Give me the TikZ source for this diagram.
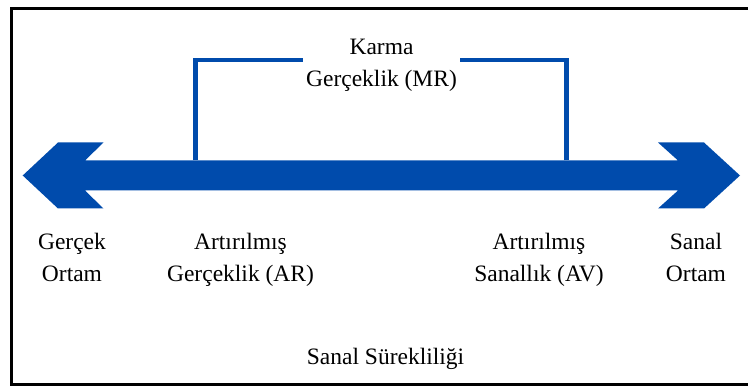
\documentclass[tikz,border=0pt]{standalone}
\usepackage{fontspec}
\setmainfont{Liberation Serif}
\definecolor{arrowblue}{RGB}{0,75,172}
\begin{document}
\begin{tikzpicture}[x=1pt,y=-1pt,
  lbl/.style={font=\fontsize{23.5}{32.5}\selectfont, align=center, anchor=base, inner sep=0pt, text=black},
  frame/.style={draw=black, line width=3pt},
  bracket/.style={draw=arrowblue, line width=4.6pt}]
\useasboundingbox (0,0) rectangle (748,387);
% frame (open on the right)
\draw[frame] (748,9) -- (11.5,9) -- (11.5,385) -- (748,385);
% double arrow
\fill[arrowblue] (22.7,175.5) -- (58,142.5) -- (103.5,142.5) -- (85,160.5)
  -- (678,160.5) -- (658,142.5) -- (704,142.5) -- (740,175.5)
  -- (704,208.5) -- (658,208.5) -- (678,190.5)
  -- (85,190.5) -- (103.5,208.5) -- (58,208.5) -- cycle;
% Mixed reality bracket
\coordinate (bl) at (195.5,160.5);
\coordinate (blt) at (302.7,60);
\coordinate (br) at (566.5,160.5);
\coordinate (brt) at (460,60);
\draw[bracket] (bl) |- (blt);
\draw[bracket] (br) |- (brt);
\node[lbl] (mr) at (381.5,86.7) {Karma\\Gerçeklik (MR)};
% labels
\node[lbl] (real) at (72,281.7) {Gerçek\\Ortam};
\node[lbl] (ar) at (240.5,281.7) {Artırılmış\\Gerçeklik (AR)};
\node[lbl] (av) at (539,281.7) {Artırılmış\\Sanallık (AV)};
\node[lbl] (virt) at (696,281.7) {Sanal\\Ortam};
\node[lbl] (cont) at (385.5,365) {Sanal Sürekliliği};
\end{tikzpicture}
\end{document}
